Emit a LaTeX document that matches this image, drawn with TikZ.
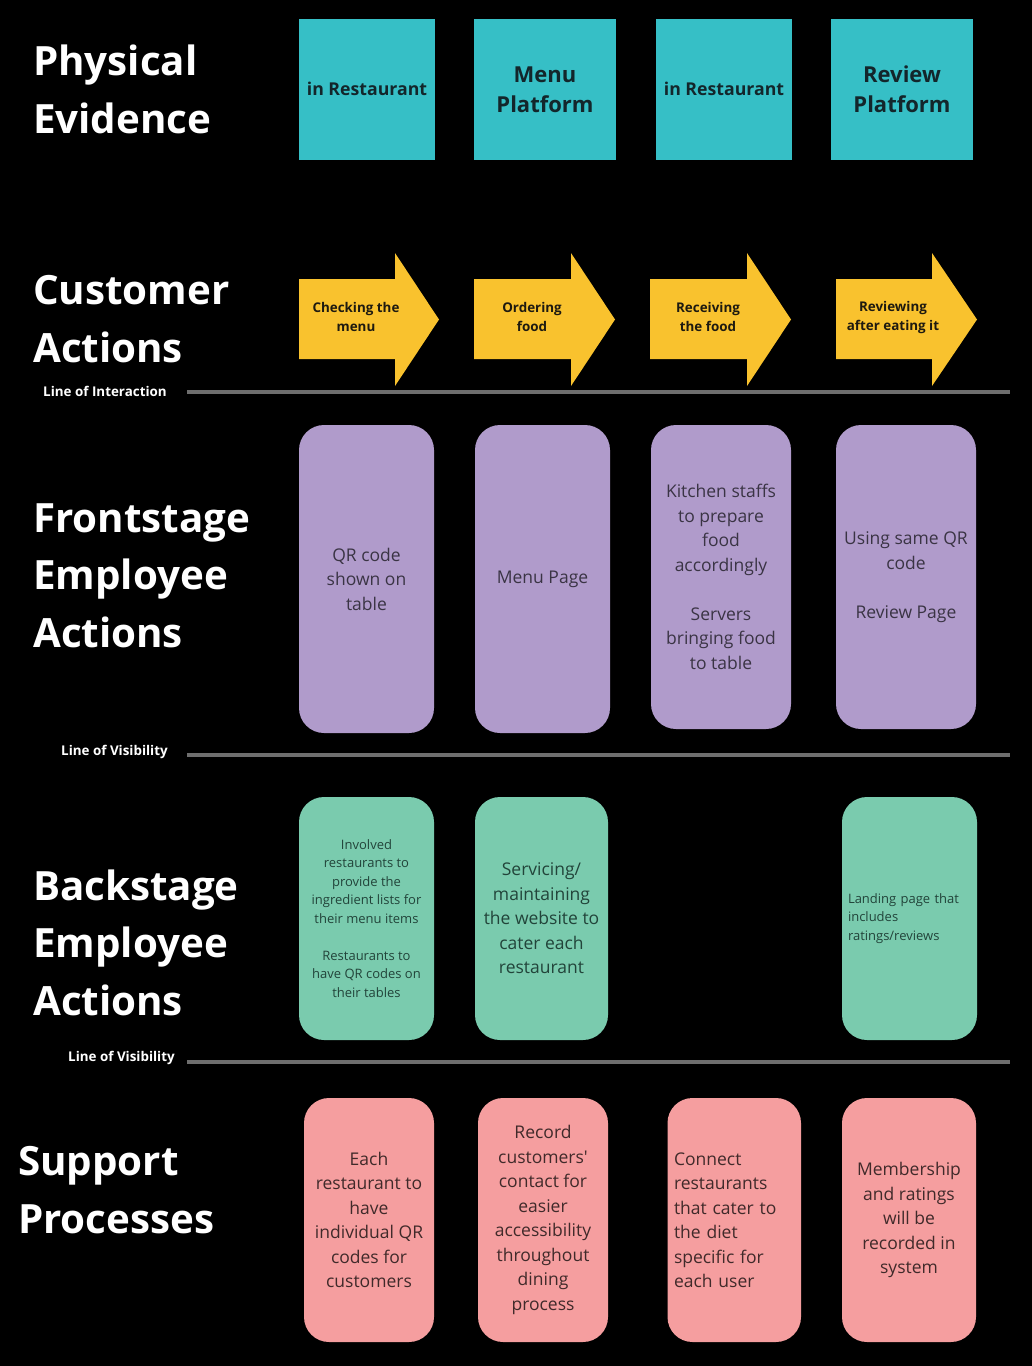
\documentclass[tikz,border=0pt]{standalone}
\usepackage{fontspec}
\setmainfont{Open Sans}
\definecolor{bgc}{HTML}{000000}
\definecolor{teal}{HTML}{36BFC6}
\definecolor{yel}{HTML}{F9C22E}
\definecolor{purp}{HTML}{B09BCB}
\definecolor{grn}{HTML}{7ACBAE}
\definecolor{pnk}{HTML}{F59E9F}
\definecolor{linec}{HTML}{6E6E6E}
\definecolor{petext}{HTML}{13262B}
\definecolor{artext}{HTML}{1E1A10}
\definecolor{putext}{HTML}{3A3444}
\definecolor{grtext}{HTML}{22443A}
\definecolor{pktext}{HTML}{402A2A}
\tikzset{
  title/.style={text=white, anchor=base west, inner sep=0pt, align=left,
    font=\fontsize{40.3}{57.5}\selectfont\bfseries},
  linelabel/.style={text=white, anchor=west, inner sep=0pt,
    font=\fontsize{13.4}{16}\selectfont\bfseries},
  sepline/.style={draw=linec, line width=4pt},
  pebox/.style={fill=teal, inner sep=0pt, text=petext, align=center,
    minimum height=141pt},
  arrowtext/.style={text=artext, inner sep=0pt, align=center,
    font=\fontsize{13.4}{18.5}\selectfont\bfseries},
  fbox/.style={fill=purp, rounded corners=25pt, inner sep=0pt, text=putext,
    align=center, font=\fontsize{17.5}{24.5}\selectfont},
  gbox/.style={fill=grn, rounded corners=25pt, inner sep=0pt, text=grtext,
    align=center, minimum height=243pt},
  sbox/.style={fill=pnk, rounded corners=25pt, inner sep=0pt, text=pktext,
    align=center, minimum height=244pt, font=\fontsize{17.5}{24.5}\selectfont},
}
\begin{document}
\begin{tikzpicture}[x=1pt,y=-1pt]
\fill[bgc] (0,0) rectangle (1032,1366);
\useasboundingbox (0,0) rectangle (1032,1366);

% titles (base anchor = baseline of last line)
\node[title] (tpe) at (33,133) {Physical\\Evidence};
\node[title] (tca) at (33,362) {Customer\\Actions};
\node[title] (tfe) at (33,647) {Frontstage\\Employee\\Actions};
\node[title] (tbe) at (33,1015) {Backstage\\Employee\\Actions};
\node[title] (tsp) at (18,1233) {Support\\Processes};

% physical evidence
\node[pebox, minimum width=136pt, font=\fontsize{17.7}{24}\selectfont\bfseries] (pe1) at (367,89.5) {\raisebox{2pt}{in Restaurant}};
\node[pebox, minimum width=142pt, font=\fontsize{22}{30}\selectfont\bfseries] (pe2) at (545,89.5) {Menu\\Platform};
\node[pebox, minimum width=136pt, font=\fontsize{17.7}{24}\selectfont\bfseries] (pe3) at (724,89.5) {\raisebox{2pt}{in Restaurant}};
\node[pebox, minimum width=142pt, font=\fontsize{22}{30}\selectfont\bfseries] (pe4) at (902,89.5) {Review\\Platform};

% customer action arrows
\foreach \xa/\xs/\xt in {299/395/439, 474/571/615, 650/747/791, 836/932/977}{
  \fill[yel] (\xa,279) -- (\xs,279) -- (\xs,253) -- (\xt,319.5) -- (\xs,386) -- (\xs,359) -- (\xa,359) -- cycle;
}
\node[arrowtext] (ca1) at (356,317) {Checking the\\menu};
\node[arrowtext] (ca2) at (532,317) {Ordering\\food};
\node[arrowtext] (ca3) at (708,317) {Receiving\\the food};
\node[arrowtext] (ca4) at (893,317.5) {Reviewing\\after eating it};

% line of interaction
\coordinate (li1) at (187,391.5);
\coordinate (li2) at (1010,391.5);
\draw[sepline] (li1) -- (li2);
\node[linelabel] (lil) at (43,391) {Line of Interaction};

% frontstage
\node[fbox, minimum width=135pt, minimum height=308pt] (f1) at (366.5,579) {QR code\\shown on\\table};
\node[fbox, minimum width=135pt, minimum height=308pt] (f2) at (542.5,579) {Menu Page};
\node[fbox, minimum width=140pt, minimum height=304pt] (f3) at (721,577) {Kitchen staffs\\to prepare\\food\\accordingly\\[24.5pt]Servers\\bringing food\\to table};
\node[fbox, minimum width=140pt, minimum height=304pt] (f4) at (906,577) {Using same QR\\code\\[24.5pt]Review Page};

% line of visibility 1
\coordinate (lv1a) at (187,755);
\coordinate (lv1b) at (1010,755);
\draw[sepline] (lv1a) -- (lv1b);
\node[linelabel] (lv1l) at (61,752) {Line of Visibility};

% backstage
\node[gbox, minimum width=135pt, font=\fontsize{13}{18.5}\selectfont] (b1) at (366.5,918.5) {Involved\\restaurants to\\provide the\\ingredient lists for\\their menu items\\[18.5pt]Restaurants to\\have QR codes on\\their tables};
\node[gbox, minimum width=133pt, font=\fontsize{17.5}{24.5}\selectfont] (b2) at (541.5,918.5) {Servicing/\\maintaining\\the website to\\cater each\\restaurant};
\node[gbox, minimum width=135pt, text width=123pt, inner xsep=6pt, align=left, font=\fontsize{13}{18.5}\selectfont] (b4) at (909.5,918.5) {Landing page that\\includes\\ratings/reviews};

% line of visibility 2
\coordinate (lv2a) at (187,1062);
\coordinate (lv2b) at (1010,1062);
\draw[sepline] (lv2a) -- (lv2b);
\node[linelabel] (lv2l) at (68,1058) {Line of Visibility};

% support processes
\node[sbox, minimum width=130pt] (s1) at (369,1220) {Each\\restaurant to\\have\\individual QR\\codes for\\customers};
\node[sbox, minimum width=130pt] (s2) at (543,1220) {Record\\customers\textquotesingle\\contact for\\easier\\accessibility\\throughout\\dining\\process};
\node[sbox, minimum width=133.5pt, text width=120.5pt, inner xsep=6.5pt, align=left] (s3) at (734.25,1220) {Connect\\restaurants\\that cater to\\the diet\\specific for\\each user};
\node[sbox, minimum width=134pt] (s4) at (909,1220) {Membership\\and ratings\\will be\\recorded in\\system};
\end{tikzpicture}
\end{document}
